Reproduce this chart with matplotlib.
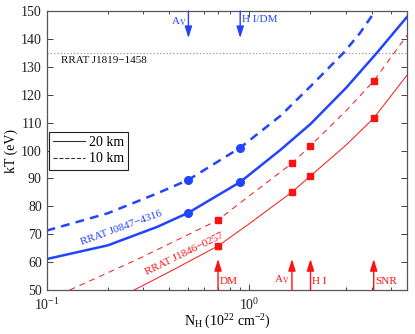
import numpy as np
import matplotlib
matplotlib.use("Agg")
import matplotlib.pyplot as plt

plt.rcParams['font.family'] = ['Liberation Serif', 'DejaVu Serif']
plt.rcParams['mathtext.fontset'] = 'custom'
plt.rcParams['mathtext.rm'] = 'Liberation Serif'
plt.rcParams['mathtext.it'] = 'Liberation Serif:italic'

# ---- data ----
# RRAT J0847-4316 (blue)
blue20_nh = [0.1, 0.2, 0.35, 0.5, 0.9, 1.42, 2.0, 3.0, 4.25, 6.0]
blue20_kt = [61.1, 66.0, 72.6, 77.7, 88.7, 100.2, 109.5, 122.5, 135.0, 148.0]
blue10_nh = [0.1, 0.2, 0.35, 0.5, 0.9, 1.42, 2.0, 2.91, 3.5, 4.17, 4.6]
blue10_kt = [71.3, 77.5, 84.6, 89.5, 101.0, 112.4, 123.0, 135.0, 142.0, 150.0, 154.5]
blue_pts_nh = [0.5, 0.9]
blue_pts_20 = [77.7, 88.7]
blue_pts_10 = [89.5, 101.0]

# RRAT J1846-0257 (red)
red20_nh = [0.27, 0.42, 0.7, 1.0, 1.62, 2.0, 3.0, 4.1, 6.0]
red20_kt = [50.0, 57.2, 65.8, 73.8, 85.1, 90.9, 102.0, 111.6, 127.1]
red10_nh = [0.13, 0.29, 0.7, 1.0, 1.62, 2.0, 3.0, 4.1, 6.0]
red10_kt = [50.0, 61.5, 75.1, 83.8, 95.4, 101.7, 114.3, 124.9, 141.4]
red_pts_nh = [0.7, 1.62, 2.0, 4.1]
red_pts_20 = [65.8, 85.1, 90.9, 111.6]
red_pts_10 = [75.1, 95.4, 101.7, 124.9]

# RRAT J1819-1458 temperature
j1819_kt = 135.0

blue_arrow_nh = [0.5, 0.9]
blue_arrow_lbl = ['A$_\\mathrm{V}$', 'H I/DM']
red_arrow_nh = [0.7, 1.62, 2.0, 4.1]
red_arrow_lbl = ['DM', 'A$_\\mathrm{V}$', 'H I', 'SNR']

yticks = [50, 60, 70, 80, 90, 100, 110, 120, 130, 140, 150]

BLUE = '#2244ff'
RED = '#ff1111'

fig = plt.figure(figsize=(4.15, 3.34), dpi=100)
ax = fig.add_axes([0.1125, 0.1317, 0.8688, 0.8353])

ax.axhline(j1819_kt, color='#999999', ls=':', lw=0.9)

ax.plot(blue20_nh, blue20_kt, color=BLUE, lw=1.8, ls='-')
ax.plot(blue10_nh, blue10_kt, color=BLUE, lw=1.8, ls=(0, (3.5, 2.5)))
ax.plot(blue_pts_nh, blue_pts_20, 'o', color=BLUE, ms=5.5)
ax.plot(blue_pts_nh, blue_pts_10, 'o', color=BLUE, ms=5.5)

ax.plot(red20_nh, red20_kt, color=RED, lw=0.7, ls='-')
ax.plot(red10_nh, red10_kt, color=RED, lw=0.7, ls=(0, (6, 5)))
ax.plot(red_pts_nh, red_pts_20, 's', color=RED, ms=5)
ax.plot(red_pts_nh, red_pts_10, 's', color=RED, ms=5)

# legend proxies
ax.plot([], [], color='#333333', lw=0.8, ls='-', label='20 km')
ax.plot([], [], color='#333333', lw=0.8, ls='--', label='10 km')
leg = ax.legend(loc='upper left', bbox_to_anchor=(0.006, 0.567), borderaxespad=0,
                fancybox=False, edgecolor='#222222', fontsize=10,
                handlelength=2.3, handletextpad=0.3, borderpad=0.3,
                labelspacing=0.25, framealpha=1)
leg.get_frame().set_linewidth(0.8)

# arrows
for x, lbl in zip(blue_arrow_nh, blue_arrow_lbl):
    ax.annotate('', xy=(x, 0.903), xycoords=('data', 'axes fraction'),
                xytext=(x, 1.0), textcoords=('data', 'axes fraction'),
                arrowprops=dict(arrowstyle='-|>,head_length=0.7,head_width=0.22',
                                color=BLUE, lw=1.0, shrinkA=0, shrinkB=0))
ax.text(blue_arrow_nh[0] * 0.975, 0.985, blue_arrow_lbl[0], transform=ax.get_xaxis_transform(),
        color=BLUE, fontsize=8, ha='right', va='top')
ax.text(blue_arrow_nh[1] * 1.02, 0.985, blue_arrow_lbl[1], transform=ax.get_xaxis_transform(),
        color=BLUE, fontsize=8, ha='left', va='top')

for x, lbl in zip(red_arrow_nh, red_arrow_lbl):
    ax.annotate('', xy=(x, 0.111), xycoords=('data', 'axes fraction'),
                xytext=(x, 0.0), textcoords=('data', 'axes fraction'),
                arrowprops=dict(arrowstyle='-|>,head_length=0.7,head_width=0.22',
                                color=RED, lw=1.0, shrinkA=0, shrinkB=0))
    if lbl.startswith('A'):
        ax.text(x * 0.975, 0.015, lbl, transform=ax.get_xaxis_transform(),
                color=RED, fontsize=8, ha='right', va='bottom')
    else:
        ax.text(x * 1.02, 0.015, lbl, transform=ax.get_xaxis_transform(),
                color=RED, fontsize=8, ha='left', va='bottom')

ax.text(0.118, 134.0, 'RRAT J1819\u22121458', color='#111111', fontsize=8,
        ha='left', va='top')
ax.text(0.235, 72.2, 'RRAT J0847\u22124316', color=BLUE, fontsize=8,
        ha='center', va='center', rotation=20)
ax.text(0.48, 63.0, 'RRAT J1846\u22120257', color=RED, fontsize=8,
        ha='center', va='center', rotation=26)

ax.set_xscale('log')
ax.set_xlim(0.1, 6.0)
ax.set_ylim(50, 150)
ax.set_yticks(yticks)
ax.tick_params(which='both', direction='in', top=True, right=True, labelsize=10,
               colors='#222222')
ax.tick_params(which='major', length=4, width=0.6)
ax.tick_params(which='minor', length=2.5, width=0.6)
ax.tick_params(axis='x', which='major', pad=5)
for s in ax.spines.values():
    s.set_color('#555555')
    s.set_linewidth(0.9)

ax.set_xlabel('N$_\\mathrm{H}$ (10$^{22}$ cm$^{-2}$)', fontsize=10, labelpad=0)
ax.set_ylabel('kT (eV)', fontsize=10, labelpad=2)

fig.savefig('out.png', dpi=100)
